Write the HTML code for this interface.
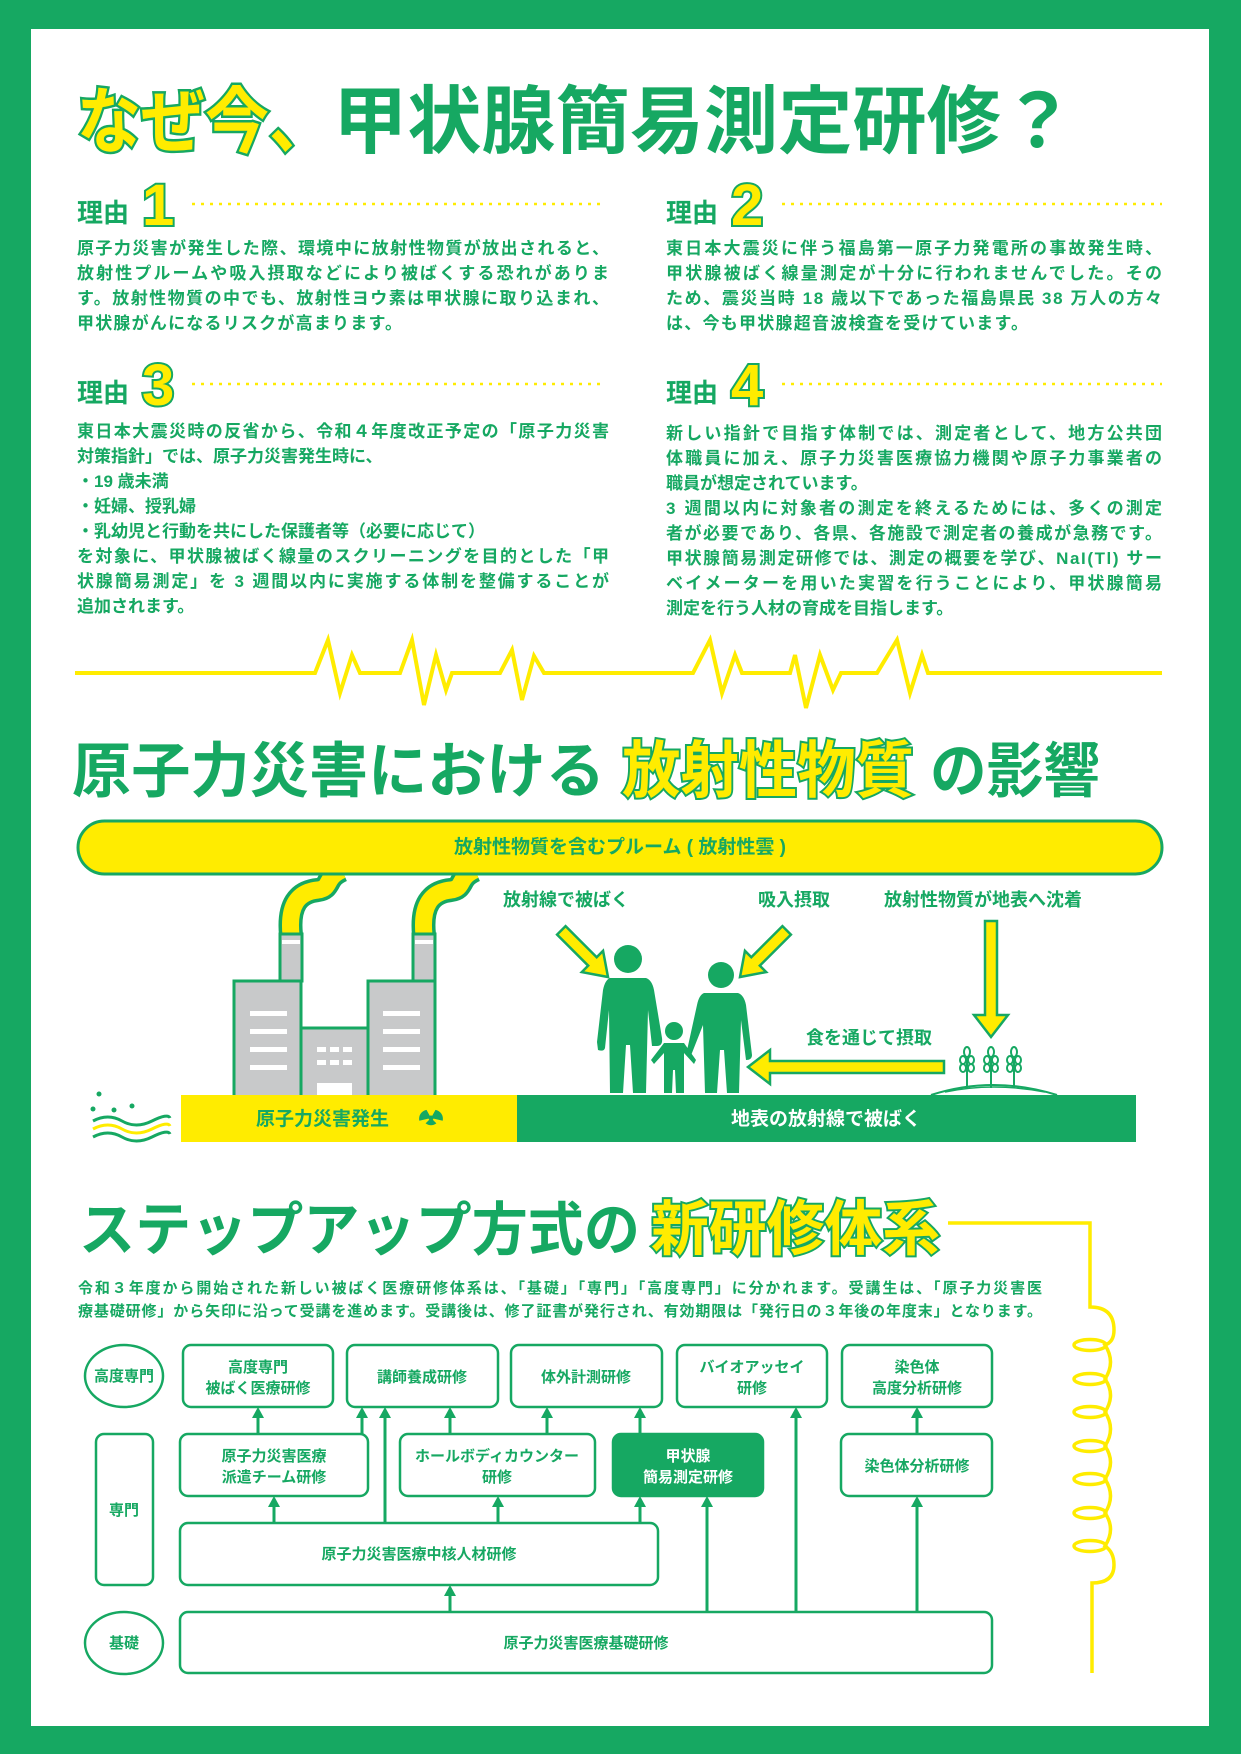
<!DOCTYPE html>
<html><head><meta charset="utf-8"><style>
html,body{margin:0;padding:0;background:#16a862;}
svg{display:block;}
text{font-family:"Liberation Sans","Noto Sans CJK JP",sans-serif;font-weight:bold;}
</style></head><body>
<svg width="1241" height="1754" viewBox="0 0 1241 1754" xmlns="http://www.w3.org/2000/svg">
<rect x="0" y="0" width="1241" height="1754" fill="#16a862"/>
<rect x="31" y="29" width="1178" height="1697" fill="#fff"/>

<!-- Title -->
<text x="77" y="147" font-size="72" fill="#ffec00" stroke="#16a862" stroke-width="5" paint-order="stroke" textLength="256" lengthAdjust="spacingAndGlyphs">なぜ今、</text>
<text x="333" y="147" font-size="74" fill="#16a862" textLength="742" lengthAdjust="spacingAndGlyphs">甲状腺簡易測定研修？</text>

<!-- Reason labels -->
<g fill="#16a862" font-size="26">
<text x="77" y="222">理由</text><text x="666" y="222">理由</text>
<text x="77" y="402">理由</text><text x="666" y="402">理由</text>
</g>
<g font-size="58" fill="#ffec00" stroke="#16a862" stroke-width="4" paint-order="stroke">
<text x="142" y="225">1</text><text x="731" y="225">2</text>
<text x="142" y="405">3</text><text x="731" y="405">4</text>
</g>
<g stroke="#ffec00" stroke-width="2.5" stroke-dasharray="3,6">
<line x1="192" y1="204" x2="605" y2="204"/><line x1="782" y1="204" x2="1162" y2="204"/>
<line x1="192" y1="384" x2="605" y2="384"/><line x1="782" y1="384" x2="1162" y2="384"/>
</g>

<!-- Reason bodies -->
<g fill="#16a862" font-size="17" font-weight="500">
<text x="77" y="254" textLength="532" lengthAdjust="spacing">原子力災害が発生した際、環境中に放射性物質が放出されると、</text>
<text x="77" y="279" textLength="532" lengthAdjust="spacing">放射性プルームや吸入摂取などにより被ばくする恐れがありま</text>
<text x="77" y="304" textLength="532" lengthAdjust="spacing">す。放射性物質の中でも、放射性ヨウ素は甲状腺に取り込まれ、</text>
<text x="77" y="329" textLength="325" lengthAdjust="spacing">甲状腺がんになるリスクが高まります。</text>

<text x="666" y="254" textLength="496" lengthAdjust="spacing">東日本大震災に伴う福島第一原子力発電所の事故発生時、</text>
<text x="666" y="279" textLength="496" lengthAdjust="spacing">甲状腺被ばく線量測定が十分に行われませんでした。その</text>
<text x="666" y="304" textLength="496" lengthAdjust="spacing">ため、震災当時 18 歳以下であった福島県民 38 万人の方々</text>
<text x="666" y="329" textLength="362" lengthAdjust="spacing">は、今も甲状腺超音波検査を受けています。</text>

<text x="77" y="437" textLength="532" lengthAdjust="spacing">東日本大震災時の反省から、令和４年度改正予定の「原子力災害</text>
<text x="77" y="462">対策指針」では、原子力災害発生時に、</text>
<text x="77" y="487">・19 歳未満</text>
<text x="77" y="512">・妊婦、授乳婦</text>
<text x="77" y="537">・乳幼児と行動を共にした保護者等（必要に応じて）</text>
<text x="77" y="562" textLength="532" lengthAdjust="spacing">を対象に、甲状腺被ばく線量のスクリーニングを目的とした「甲</text>
<text x="77" y="587" textLength="532" lengthAdjust="spacing">状腺簡易測定」を 3 週間以内に実施する体制を整備することが</text>
<text x="77" y="612">追加されます。</text>

<text x="666" y="439" textLength="496" lengthAdjust="spacing">新しい指針で目指す体制では、測定者として、地方公共団</text>
<text x="666" y="464" textLength="496" lengthAdjust="spacing">体職員に加え、原子力災害医療協力機関や原子力事業者の</text>
<text x="666" y="489">職員が想定されています。</text>
<text x="666" y="514" textLength="496" lengthAdjust="spacing">3 週間以内に対象者の測定を終えるためには、多くの測定</text>
<text x="666" y="539" textLength="496" lengthAdjust="spacing">者が必要であり、各県、各施設で測定者の養成が急務です。</text>
<text x="666" y="564" textLength="496" lengthAdjust="spacing">甲状腺簡易測定研修では、測定の概要を学び、NaI(Tl) サー</text>
<text x="666" y="589" textLength="496" lengthAdjust="spacing">ベイメーターを用いた実習を行うことにより、甲状腺簡易</text>
<text x="666" y="614">測定を行う人材の育成を目指します。</text>
</g>

<!-- Zigzag -->
<polyline fill="none" stroke="#ffec00" stroke-width="4" stroke-linejoin="miter"
points="75,673 315,673 328,640 340,693 352,655 360,673 400,673 412,640 424,705 436,655 446,690 452,673 500,673 512,650 522,700 534,656 544,673 693,673 710,640 722,693 735,655 742,673 790,673 795,655 806,708 820,655 833,690 841,673 877,673 897,640 910,693 922,655 928,673 1162,673"/>

<!-- Heading 2 -->
<text x="72" y="792" font-size="60" fill="#16a862" textLength="533" lengthAdjust="spacingAndGlyphs">原子力災害における</text>
<text x="622" y="792" font-size="62" fill="#ffec00" stroke="#16a862" stroke-width="4" paint-order="stroke" textLength="292" lengthAdjust="spacingAndGlyphs">放射性物質</text>
<text x="930" y="792" font-size="60" fill="#16a862" textLength="170" lengthAdjust="spacingAndGlyphs">の影響</text>

<!-- Smoke -->
<g fill="none" stroke-linecap="butt">
<path d="M291,935 C288,905 298,892 318,890 C332,888 324,878 342,870" stroke="#16a862" stroke-width="24"/>
<path d="M291,935 C288,905 298,892 318,890 C332,888 324,878 342,870" stroke="#ffec00" stroke-width="17"/>
<path d="M424,935 C421,905 431,892 451,890 C465,888 457,878 475,870" stroke="#16a862" stroke-width="24"/>
<path d="M424,935 C421,905 431,892 451,890 C465,888 457,878 475,870" stroke="#ffec00" stroke-width="17"/>
</g>
<!-- Plume -->
<rect x="78" y="821" width="1084" height="53" rx="26.5" fill="#ffec00" stroke="#16a862" stroke-width="3"/>
<text x="620" y="853" font-size="19" fill="#16a862" text-anchor="middle" font-weight="500">放射性物質を含むプルーム ( 放射性雲 )</text>

<!-- Factory -->
<g stroke="#16a862" stroke-width="3" fill="#c8c9ca">
<rect x="280" y="934" width="22" height="47"/>
<rect x="413" y="934" width="22" height="47"/>
<rect x="234" y="981" width="67" height="116"/>
<rect x="301" y="1028" width="67" height="69"/>
<rect x="368" y="981" width="67" height="116"/>
</g>
<g fill="#fff">
<rect x="282" y="940" width="18" height="4"/><rect x="415" y="940" width="18" height="4"/>
<rect x="250" y="1011" width="37" height="5"/><rect x="250" y="1029" width="37" height="5"/><rect x="250" y="1047" width="37" height="5"/><rect x="250" y="1065" width="37" height="5"/>
<rect x="383" y="1011" width="37" height="5"/><rect x="383" y="1029" width="37" height="5"/><rect x="383" y="1047" width="37" height="5"/><rect x="383" y="1065" width="37" height="5"/>
<rect x="317" y="1047" width="9" height="5"/><rect x="330" y="1047" width="9" height="5"/><rect x="343" y="1047" width="9" height="5"/>
<rect x="317" y="1060" width="9" height="5"/><rect x="330" y="1060" width="9" height="5"/><rect x="343" y="1060" width="9" height="5"/>
<rect x="317" y="1083" width="35" height="12"/>
</g>

<!-- wave icon -->
<g fill="#16a862"><circle cx="99" cy="1094" r="2.5"/><circle cx="93" cy="1109" r="2.5"/><circle cx="114" cy="1110" r="2.5"/><circle cx="132" cy="1106" r="2.5"/></g>
<g fill="none" stroke-width="3">
<path d="M93,1121 Q108,1113 122,1121 T152,1121 T170,1118" stroke="#16a862"/>
<path d="M93,1129 Q108,1121 122,1129 T152,1129 T170,1126" stroke="#ffec00"/>
<path d="M93,1137 Q108,1129 122,1137 T152,1137 T170,1134" stroke="#16a862"/>
</g>

<!-- ground bars -->
<rect x="181" y="1095" width="336" height="47" fill="#ffec00"/>
<rect x="517" y="1095" width="619" height="47" fill="#16a862"/>
<text x="256" y="1125" font-size="19" fill="#16a862" font-weight="500">原子力災害発生</text>
<g fill="#16a862" transform="translate(431,1118)">
<circle r="2.5"/>
<path d="M0,0 L-5,-9 A10,10 0 0 0 -13,3 Z M0,0 L5,-9 A10,10 0 0 1 13,3 Z M0,0 L-6,6 A10,10 0 0 0 6,6 Z" transform="scale(0.9)"/>
</g>
<text x="826" y="1125" font-size="19" fill="#fff" text-anchor="middle" font-weight="500">地表の放射線で被ばく</text>

<!-- people -->
<g fill="#16a862">
<circle cx="628" cy="959" r="14"/>
<path d="M610,978 L646,978 Q652,980 654,990 L662,1038 Q663,1046 657,1046 L652,1046 L648,1010 L646,1093 L633,1093 L630,1045 L626,1045 L623,1093 L610,1093 L609,1010 L605,1048 Q604,1052 598,1050 L597,1042 L603,990 Q605,980 610,978 Z"/>
<circle cx="674" cy="1031" r="9"/>
<path d="M664,1043 L684,1043 L696,1060 L694,1064 L684,1053 L684,1093 L676,1093 L675,1070 L673,1070 L672,1093 L664,1093 L664,1053 L654,1064 L651,1060 Z"/>
<circle cx="721" cy="975" r="13"/>
<path d="M704,993 L738,993 Q744,995 746,1005 L752,1055 Q752,1060 746,1060 L741,1020 L739,1093 L727,1093 L724,1050 L720,1050 L717,1093 L705,1093 L703,1025 L690,1058 L686,1055 L697,1005 Q699,995 704,993 Z"/>
</g>
<!-- arrow labels -->
<g fill="#16a862" font-size="18" font-weight="500">
<text x="503" y="906">放射線で被ばく</text>
<text x="758" y="906">吸入摂取</text>
<text x="884" y="906">放射性物質が地表へ沈着</text>
<text x="806" y="1044">食を通じて摂取</text>
</g>
<!-- yellow arrows -->
<g fill="#ffec00" stroke="#16a862" stroke-width="2.5" stroke-linejoin="miter">
<polygon points="-66,-6 -22,-6 -22,-15 0,0 -22,15 -22,6 -66,6" transform="translate(608,977) rotate(45)"/>
<polygon points="-66,-6 -22,-6 -22,-15 0,0 -22,15 -22,6 -66,6" transform="translate(740,977) rotate(135)"/>
<path d="M985,921 L997,921 L997,1015 L1008,1015 L991,1037 L974,1015 L985,1015 Z"/>
<path d="M944,1061 L944,1073 L770,1073 L770,1084 L748,1067 L770,1050 L770,1061 Z"/>
</g>
<!-- wheat + mound -->
<path d="M931,1095 Q993,1075 1057,1095" fill="none" stroke="#16a862" stroke-width="2"/>
<path d="M945,1092 Q993,1082 1045,1092" fill="none" stroke="#16a862" stroke-width="1.5"/>
<g fill="none" stroke="#16a862" stroke-width="2">
<g id="w"><line x1="967" y1="1058" x2="967" y2="1088"/>
<ellipse cx="963" cy="1068" rx="3" ry="4"/><ellipse cx="971" cy="1068" rx="3" ry="4"/>
<ellipse cx="963" cy="1060" rx="3" ry="4"/><ellipse cx="971" cy="1060" rx="3" ry="4"/>
<ellipse cx="967" cy="1052" rx="3" ry="5"/></g>
<use href="#w" x="24"/><use href="#w" x="47"/>
</g>

<!-- Heading 3 -->
<text x="79" y="1250" font-size="58" fill="#16a862" textLength="561" lengthAdjust="spacingAndGlyphs">ステップアップ方式の</text>
<text x="651" y="1250" font-size="60" fill="#ffec00" stroke="#16a862" stroke-width="4" paint-order="stroke" textLength="289" lengthAdjust="spacingAndGlyphs">新研修体系</text>
<g fill="#16a862" font-size="15" font-weight="500">
<text x="78" y="1293" textLength="964" lengthAdjust="spacing">令和３年度から開始された新しい被ばく医療研修体系は、「基礎」「専門」「高度専門」に分かれます。受講生は、「原子力災害医</text>
<text x="78" y="1316" textLength="964" lengthAdjust="spacing">療基礎研修」から矢印に沿って受講を進めます。受講後は、修了証書が発行され、有効期限は「発行日の３年後の年度末」となります。</text>
</g>

<!-- coil -->
<g fill="none" stroke="#ffec00" stroke-width="3.5">
<path d="M948,1223 L1090,1223 L1090,1307 Q1114,1307 1114,1330 Q1114,1342 1105,1345 Q1116,1362 1105,1379 Q1116,1395 1105,1412 Q1116,1429 1105,1446 Q1116,1462 1105,1479 Q1116,1496 1105,1513 Q1116,1529 1105,1546 Q1114,1552 1114,1565 Q1114,1583 1092,1583 L1092,1673"/>
<ellipse cx="1090" cy="1345" rx="16" ry="5.5"/><ellipse cx="1090" cy="1379" rx="16" ry="5.5"/>
<ellipse cx="1090" cy="1412" rx="16" ry="5.5"/><ellipse cx="1090" cy="1446" rx="16" ry="5.5"/>
<ellipse cx="1090" cy="1479" rx="16" ry="5.5"/><ellipse cx="1090" cy="1513" rx="16" ry="5.5"/>
<ellipse cx="1090" cy="1546" rx="16" ry="5.5"/>
</g>

<!-- Flowchart -->
<g fill="#fff" stroke="#16a862" stroke-width="2.5">
<ellipse cx="124" cy="1376" rx="39" ry="31"/>
<rect x="96" y="1434" width="57" height="151" rx="8"/>
<ellipse cx="124" cy="1643" rx="39" ry="31"/>
<rect x="183" y="1345" width="150" height="62" rx="8"/>
<rect x="347" y="1345" width="151" height="62" rx="8"/>
<rect x="511" y="1345" width="151" height="62" rx="8"/>
<rect x="677" y="1345" width="150" height="62" rx="8"/>
<rect x="842" y="1345" width="150" height="62" rx="8"/>
<rect x="180" y="1434" width="188" height="62" rx="8"/>
<rect x="400" y="1434" width="195" height="62" rx="8"/>
<rect x="613" y="1434" width="150" height="62" rx="8" fill="#16a862"/>
<rect x="841" y="1434" width="151" height="62" rx="8"/>
<rect x="180" y="1523" width="478" height="62" rx="8"/>
<rect x="180" y="1612" width="812" height="61" rx="8"/>
</g>
<g stroke="#16a862" stroke-width="3">
<line x1="258" y1="1434" x2="258" y2="1415"/><line x1="362" y1="1434" x2="362" y2="1415"/>
<line x1="385" y1="1523" x2="385" y2="1415"/><line x1="450" y1="1434" x2="450" y2="1415"/>
<line x1="547" y1="1434" x2="547" y2="1415"/><line x1="640" y1="1434" x2="640" y2="1415"/>
<line x1="796" y1="1612" x2="796" y2="1415"/><line x1="917" y1="1434" x2="917" y2="1415"/>
<line x1="917" y1="1612" x2="917" y2="1504"/><line x1="274" y1="1523" x2="274" y2="1504"/>
<line x1="498" y1="1523" x2="498" y2="1504"/><line x1="640" y1="1523" x2="640" y2="1504"/>
<line x1="707" y1="1612" x2="707" y2="1504"/><line x1="450" y1="1612" x2="450" y2="1593"/>
</g>
<g fill="#16a862">
<path d="M252,1418 L264,1418 L258,1407 Z"/><path d="M356,1418 L368,1418 L362,1407 Z"/>
<path d="M379,1418 L391,1418 L385,1407 Z"/><path d="M444,1418 L456,1418 L450,1407 Z"/>
<path d="M541,1418 L553,1418 L547,1407 Z"/><path d="M634,1418 L646,1418 L640,1407 Z"/>
<path d="M790,1418 L802,1418 L796,1407 Z"/><path d="M911,1418 L923,1418 L917,1407 Z"/>
<path d="M911,1507 L923,1507 L917,1496 Z"/><path d="M268,1507 L280,1507 L274,1496 Z"/>
<path d="M492,1507 L504,1507 L498,1496 Z"/><path d="M634,1507 L646,1507 L640,1496 Z"/>
<path d="M701,1507 L713,1507 L707,1496 Z"/><path d="M444,1596 L456,1596 L450,1585 Z"/>
</g>
<g fill="#16a862" font-size="15" text-anchor="middle" font-weight="500">
<text x="124" y="1381">高度専門</text>
<text x="124" y="1515">専門</text>
<text x="124" y="1648">基礎</text>
<text x="258" y="1372">高度専門</text><text x="258" y="1393">被ばく医療研修</text>
<text x="422" y="1382">講師養成研修</text>
<text x="586" y="1382">体外計測研修</text>
<text x="752" y="1372">バイオアッセイ</text><text x="752" y="1393">研修</text>
<text x="917" y="1372">染色体</text><text x="917" y="1393">高度分析研修</text>
<text x="274" y="1461">原子力災害医療</text><text x="274" y="1482">派遣チーム研修</text>
<text x="497" y="1461">ホールボディカウンター</text><text x="497" y="1482">研修</text>
<text x="688" y="1461" fill="#fff">甲状腺</text><text x="688" y="1482" fill="#fff">簡易測定研修</text>
<text x="917" y="1471">染色体分析研修</text>
<text x="419" y="1559">原子力災害医療中核人材研修</text>
<text x="586" y="1648">原子力災害医療基礎研修</text>
</g>
</svg>
</body></html>
